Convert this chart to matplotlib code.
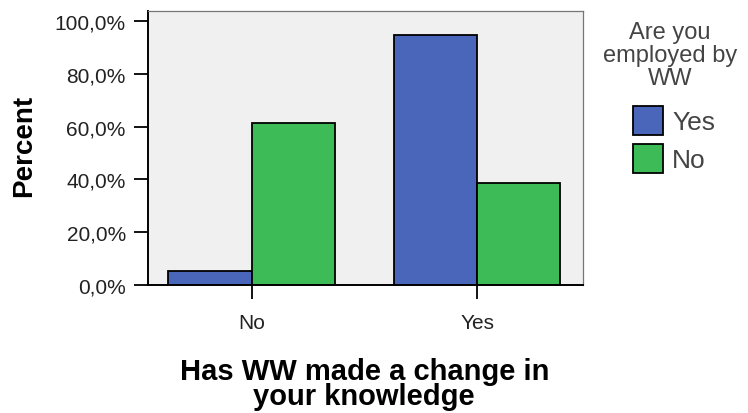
import matplotlib
matplotlib.use("Agg")
import matplotlib.pyplot as plt
import numpy as np
from matplotlib.ticker import FuncFormatter

plt.rcParams["font.family"] = ["Liberation Sans", "DejaVu Sans"]

categories = ["No", "Yes"]
series_names = ["Yes", "No"]
employed_yes = [5.3, 94.7]
employed_no = [61.3, 38.7]
colors = ["#4A66BB", "#3CBB56"]

fig = plt.figure(figsize=(7.48, 4.14), dpi=100)
ax = fig.add_axes([148/748, 1-286/414, (583-148)/748, (286-12)/414])
ax.set_facecolor("#F0F0F0")

x = np.arange(len(categories))
w = 0.37
ax.bar(x - w/2, employed_yes, w, color=colors[0], edgecolor="black", linewidth=1.3, label=series_names[0])
ax.bar(x + w/2, employed_no, w, color=colors[1], edgecolor="black", linewidth=1.3, label=series_names[1])

ax.set_xlim(-0.46, 1.47)
ax.set_ylim(0, 103.8)
ax.set_yticks([0, 20, 40, 60, 80, 100])
ax.yaxis.set_major_formatter(FuncFormatter(lambda v, p: f"{v:.1f}%".replace(".", ",")))
ax.set_xticks(x)
ax.set_xticklabels(categories)
ax.tick_params(axis="both", direction="out", length=10, width=1.3, labelsize=15, colors="black",
               labelcolor="#222222")
ax.tick_params(axis="y", pad=6)
ax.tick_params(axis="x", pad=10)
for s in ["top", "right"]:
    ax.spines[s].set_color("#777777")
    ax.spines[s].set_linewidth(0.9)
for s in ["left", "bottom"]:
    ax.spines[s].set_linewidth(1.4)

ax.set_ylabel("Percent", fontsize=20, fontweight="bold")
ax.yaxis.set_label_coords(-0.255, 0.51)
ax.set_xlabel("Has WW made a change in\nyour knowledge", fontsize=21, fontweight="bold", linespacing=0.86)
ax.xaxis.set_label_coords(0.497, -0.262)

fig.text(670/748, 1-22/414, "Are you\nemployed by\nWW", ha="center", va="top",
         fontsize=17, color="#444444", linespacing=1.05, multialignment="center")

leg = fig.legend(loc="upper left", bbox_to_anchor=(633/748, 1-107/414), frameon=False,
                 fontsize=19, handlelength=1.14, handleheight=1.3, handletextpad=0.35,
                 labelspacing=0.35, borderpad=0, borderaxespad=0)
for t in leg.get_texts():
    t.set_color("#444444")

fig.savefig("out.png", dpi=100)
